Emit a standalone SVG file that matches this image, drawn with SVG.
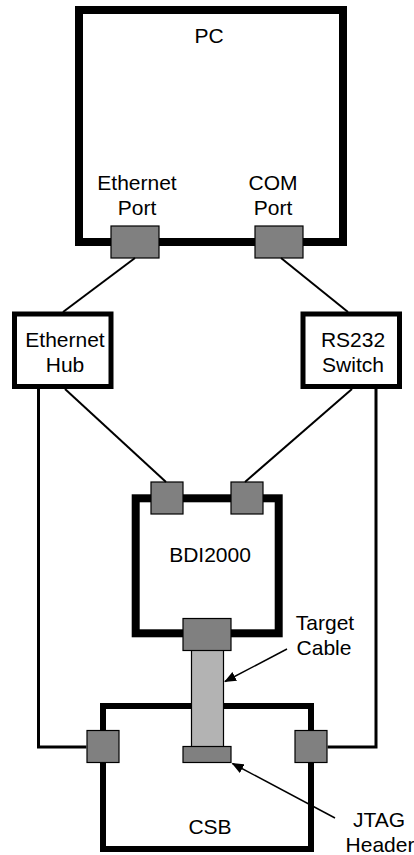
<svg xmlns="http://www.w3.org/2000/svg" width="414" height="855" viewBox="0 0 414 855">
<style>
text{font-family:"Liberation Sans",Arial,sans-serif;font-size:21px;fill:#000;text-anchor:middle}
.port{fill:#808080;stroke:#000;stroke-width:1.2}
.box{fill:#fff;stroke:#000}
.wire{stroke:#000;fill:none}
</style>
<defs>
<marker id="ah" markerWidth="12" markerHeight="10" refX="11" refY="5" orient="auto" markerUnits="userSpaceOnUse">
<path d="M0,0 L12,5 L0,10 Z" fill="#000"/>
</marker>
</defs>
<rect width="414" height="855" fill="#fff"/>
<g id="pc">
<rect class="box" x="79" y="10" width="264" height="232" stroke-width="8"/>
<text x="209" y="43">PC</text>
<text x="137" y="190">Ethernet</text>
<text x="137" y="215">Port</text>
<text x="273" y="190">COM</text>
<text x="273" y="215">Port</text>
<rect class="port" x="111" y="226" width="48" height="32"/>
<rect class="port" x="255" y="226" width="48" height="32"/>
</g>
<g id="ethernet-hub">
<rect class="box" x="14.5" y="314" width="96.5" height="72.5" stroke-width="5"/>
<text x="65" y="347">Ethernet</text>
<text x="65" y="372">Hub</text>
</g>
<g id="rs232-switch">
<rect class="box" x="303" y="314" width="96.5" height="72.5" stroke-width="5"/>
<text x="353" y="347">RS232</text>
<text x="353" y="372">Switch</text>
</g>
<g id="bdi2000">
<rect class="box" x="135.7" y="498.3" width="143" height="135" stroke-width="8"/>
<text x="210" y="562">BDI2000</text>
<rect class="port" x="151" y="482" width="32" height="32"/>
<rect class="port" x="231" y="482" width="32" height="32"/>
</g>
<g id="csb">
<rect class="box" x="103" y="706" width="208" height="143" stroke-width="6"/>
<text x="210" y="834">CSB</text>
<rect class="port" x="87" y="730.5" width="32" height="32"/>
<rect class="port" x="295" y="730.5" width="32" height="32"/>
</g>
<g id="target-cable">
<rect x="191.5" y="650" width="32" height="97" fill="#b3b3b3" stroke="#000" stroke-width="1.2"/>
<rect class="port" x="183" y="618.5" width="48" height="32"/>
<text x="325" y="630">Target</text>
<text x="324" y="655">Cable</text>
</g>
<g id="jtag-header">
<rect class="port" x="183" y="746.5" width="48" height="16"/>
<text x="379" y="827">JTAG</text>
<text x="380" y="852">Header</text>
</g>
<g id="connectors">
<line class="wire" x1="135" y1="258" x2="63" y2="312" stroke-width="2"/>
<line class="wire" x1="281" y1="258" x2="348" y2="312" stroke-width="2"/>
<line class="wire" x1="65" y1="389" x2="166" y2="482" stroke-width="2"/>
<line class="wire" x1="352" y1="389" x2="245" y2="482" stroke-width="2"/>
<polyline class="wire" points="38.5,389 38.5,747 86.4,747" stroke-width="3"/>
<polyline class="wire" points="376,389 376,747 327.6,747" stroke-width="3"/>
<line class="wire" x1="287" y1="649" x2="225" y2="681.5" stroke-width="1.5" marker-end="url(#ah)"/>
<line class="wire" x1="335" y1="818" x2="232.5" y2="763.5" stroke-width="1.5" marker-end="url(#ah)"/>
</g>
</svg>
